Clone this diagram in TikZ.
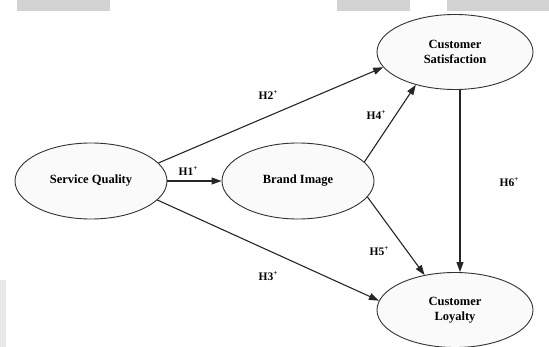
\documentclass[tikz,border=0pt]{standalone}
\usepackage{fontspec}
\setmainfont{Liberation Serif}
\usetikzlibrary{shapes.geometric,arrows.meta}
\newcommand{\plussup}{\raisebox{0.85ex}{\fontsize{7}{7}\selectfont +}}
\begin{document}
\begin{tikzpicture}[x=1pt,y=-1pt,
  construct/.style={ellipse,draw=black!80,line width=0.9pt,fill=blue!2!gray!4,
    minimum width=#1,minimum height=76pt,inner sep=0pt,align=center,
    font=\bfseries\fontsize{12.5}{15}\selectfont},
  construct/.default=152pt,
  path/.style={draw=black!85,line width=1.1pt,-{Triangle[length=10pt,width=7pt]}},
  hyp/.style={font=\bfseries\fontsize{11.5}{13}\selectfont,inner sep=1pt},
  band/.style={fill=gray!35,draw=none}]
\useasboundingbox (0,0) rectangle (549,347);
% header bands
\fill[band] (17,0) rectangle (110,11);
\fill[band] (337,0) rectangle (410,11);
\fill[band] (447,0) rectangle (549,11);
\fill[gray!18] (0,280) rectangle (6,347);
% constructs
\node[construct] (sq) at (91,181) {Service Quality};
\node[construct] (bi) at (298,181) {Brand Image};
\node[construct=156pt,minimum height=75pt] (cs) at (455,52) {Customer\\Satisfaction};
\node[construct=156pt,minimum height=75pt] (cl) at (455,310) {Customer\\Loyalty};
% hypothesised paths
\draw[path] (sq) -- (bi);
\draw[path] (sq.15) -- (cs.192);
\draw[path] (sq.-16) -- (cl.173);
\draw[path] (bi.16) -- (cs.220);
\draw[path] (bi.-13) -- (cl.131);
\draw[path] ([xshift=5pt]cs.south) -- ([xshift=5pt]cl.north);
% labels
\node[hyp] (h1) at (188,171) {H1\plussup};
\node[hyp] (h2) at (268,95) {H2\plussup};
\node[hyp] (h3) at (268,276) {H3\plussup};
\node[hyp] (h4) at (376,115) {H4\plussup};
\node[hyp] (h5) at (379,251) {H5\plussup};
\node[hyp] (h6) at (509,182) {H6\plussup};
\end{tikzpicture}
\end{document}
